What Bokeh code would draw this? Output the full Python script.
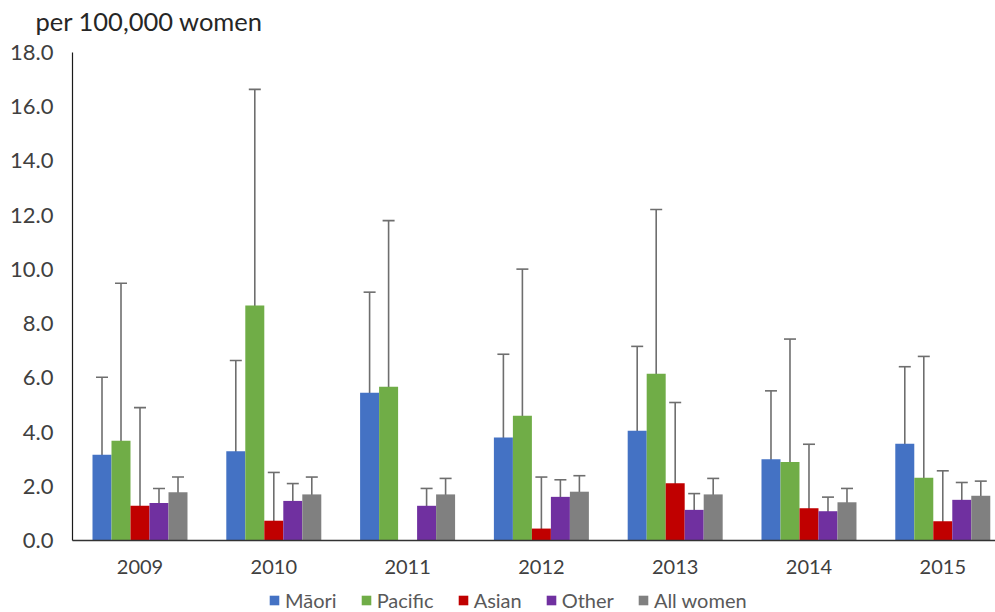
from bokeh.plotting import figure
from bokeh.models import (ColumnDataSource, Range1d, FixedTicker, NumeralTickFormatter,
                          Whisker, TeeHead, Legend, LegendItem, Label)
from bokeh.transform import dodge
from bokeh.embed import file_html
from bokeh.resources import INLINE

years = [2009, 2010, 2011, 2012, 2013, 2014, 2015]
tick_labels = ["2009", "2010", "2011", "2012", "2013", "2014", "2015"]
series_names = ["Māori", "Pacific", "Asian", "Other", "All women"]
title_text = "per 100,000 women"

maori = [3.16, 3.29, 5.45, 3.80, 4.05, 3.00, 3.57]
maori_lo = [1.39, 1.30, 2.94, 1.82, 2.05, 1.45, 1.77]
maori_hi = [6.02, 6.64, 9.16, 6.87, 7.16, 5.52, 6.41]

pacific = [3.68, 8.67, 5.67, 4.60, 6.15, 2.90, 2.31]
pacific_lo = [0.98, 3.87, 2.29, 1.67, 2.62, 0.79, 0.45]
pacific_hi = [9.49, 16.64, 11.80, 10.01, 12.21, 7.43, 6.79]

asian = [1.28, 0.73, None, 0.44, 2.11, 1.19, 0.71]
asian_lo = [0.09, 0.09, None, 0.02, 0.60, 0.22, 0.09]
asian_hi = [4.90, 2.51, None, 2.34, 5.09, 3.55, 2.57]

other = [1.38, 1.46, 1.28, 1.61, 1.13, 1.08, 1.50]
other_lo = [0.95, 0.98, 0.84, 1.08, 0.74, 0.70, 1.02]
other_hi = [1.92, 2.10, 1.92, 2.24, 1.73, 1.60, 2.14]

all_women = [1.78, 1.70, 1.70, 1.80, 1.70, 1.41, 1.65]
all_lo = [1.32, 1.32, 1.25, 1.36, 1.27, 1.02, 1.22]
all_hi = [2.34, 2.34, 2.29, 2.39, 2.29, 1.92, 2.19]

y_ticks = [0, 2, 4, 6, 8, 10, 12, 14, 16, 18]

colors = ["#4472C4", "#70AD47", "#C00000", "#7030A0", "#808080"]
offsets = [-0.284, -0.142, 0.0, 0.142, 0.284]
bar_w = 0.142
FONT = "Lato"

X_AXIS_START = 2008.4955   # where the y axis sits
X_END = 2015.394
W, H = 995, 612
PX_PER_YEAR = 133.8
PX_PER_UNIT = 27.11

x_start = X_AXIS_START - 72 / PX_PER_YEAR
y_top = 18 + 52 / PX_PER_UNIT
y_bottom = -(H - 540) / PX_PER_UNIT

p = figure(width=W, height=H, output_backend="svg", toolbar_location=None,
           x_range=Range1d(x_start, X_END), y_range=Range1d(y_bottom, y_top),
           min_border_left=0, min_border_right=0, min_border_top=0,
           min_border_bottom=0)
p.outline_line_color = None
p.xgrid.visible = False
p.ygrid.visible = False

vals = [maori, pacific, asian, other, all_women]
los = [maori_lo, pacific_lo, asian_lo, other_lo, all_lo]
his = [maori_hi, pacific_hi, asian_hi, other_hi, all_hi]

items = []
for name, v, lo, hi, c, off in zip(series_names, vals, los, his, colors, offsets):
    rows = [(y, a, b, d) for y, a, b, d in zip(years, v, lo, hi) if a is not None]
    src = ColumnDataSource(dict(year=[r[0] for r in rows], val=[r[1] for r in rows],
                                lo=[r[2] for r in rows], hi=[r[3] for r in rows]))
    r = p.vbar(x=dodge("year", off, range=p.x_range), top="val", width=bar_w, source=src,
               fill_color=c, line_color=None)
    items.append(LegendItem(label=name, renderers=[r]))
    w = Whisker(source=src, base=dodge("year", off, range=p.x_range), upper="hi", lower="lo",
                line_color="#6e6e6e", line_width=1.6,
                upper_head=TeeHead(size=12, line_color="#6e6e6e", line_width=1.6),
                lower_head=TeeHead(size=12, line_color="#6e6e6e", line_width=1.6))
    p.add_layout(w)

# axes
p.yaxis.ticker = FixedTicker(ticks=y_ticks)
p.yaxis.formatter = NumeralTickFormatter(format="0.0")
p.yaxis.bounds = (0, 18)
p.yaxis.fixed_location = X_AXIS_START
p.xaxis.ticker = FixedTicker(ticks=years)
p.xaxis.major_label_overrides = {y: t for y, t in zip(years, tick_labels)}
p.xaxis.fixed_location = 0
p.xaxis.bounds = (X_AXIS_START, X_END)
for ax in (p.xaxis[0], p.yaxis[0]):
    ax.major_tick_line_color = None
    ax.minor_tick_line_color = None
    ax.major_label_text_font = FONT
    ax.major_label_text_color = "#404040"
p.xaxis.major_label_text_font_size = "20px"
p.yaxis.major_label_text_font_size = "22px"
p.yaxis.axis_line_color = "#1a1a1a"
p.yaxis.axis_line_width = 1.2
p.xaxis.axis_line_color = "#333333"
p.xaxis.axis_line_width = 1.6
p.yaxis.major_label_standoff = 13
p.xaxis.major_label_standoff = 14

title = Label(x=35, y=H - 20, x_units="screen", y_units="screen", text=title_text,
              text_font=FONT, text_font_size="25.5px", text_color="#262626",
              text_baseline="alphabetic", text_align="left")
p.add_layout(title)

legend = Legend(items=items, orientation="horizontal", location=(268, 0),
                glyph_width=12, glyph_height=12, label_standoff=5, spacing=23,
                label_text_font=FONT, label_text_font_size="20px",
                label_text_color="#595959", border_line_color=None,
                background_fill_alpha=0, padding=0, margin=0)
p.add_layout(legend, "center")

open("out.html", "w").write(file_html(p, INLINE))
